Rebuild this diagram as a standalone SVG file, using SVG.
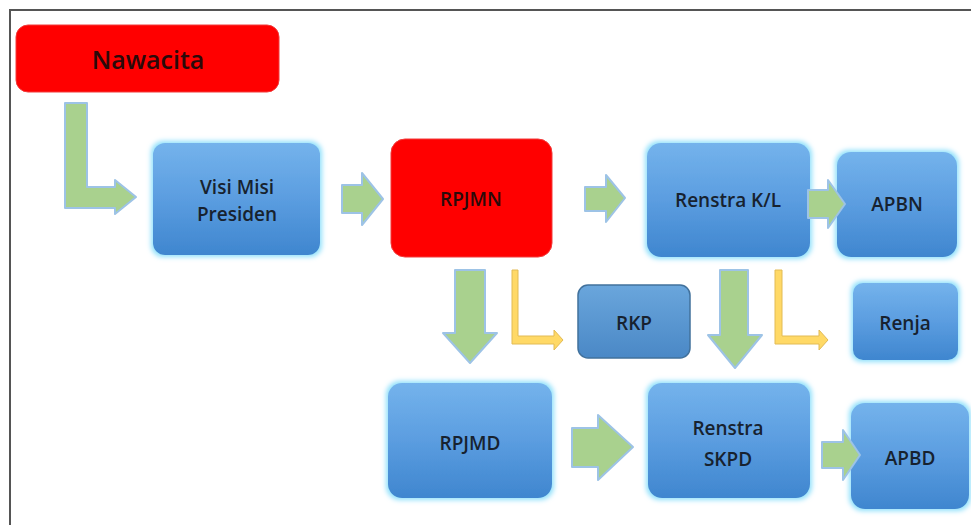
<svg xmlns="http://www.w3.org/2000/svg" width="971" height="525" viewBox="0 0 971 525">
<defs>
<linearGradient id="blue" x1="0" y1="0" x2="0" y2="1">
<stop offset="0" stop-color="#74b3ec"/>
<stop offset="0.5" stop-color="#5b9de0"/>
<stop offset="1" stop-color="#3f86cf"/>
</linearGradient>
<linearGradient id="blue2" x1="0" y1="0" x2="0" y2="1">
<stop offset="0" stop-color="#6aa6dc"/>
<stop offset="1" stop-color="#4a88c6"/>
</linearGradient>
<filter id="glow" x="-20%" y="-20%" width="140%" height="140%">
<feMorphology in="SourceAlpha" operator="dilate" radius="1.5" result="d"/>
<feGaussianBlur in="d" stdDeviation="2.5" result="b"/>
<feFlood flood-color="#8fe0fb" result="c"/>
<feComposite in="c" in2="b" operator="in" result="g"/>
<feMerge><feMergeNode in="g"/><feMergeNode in="SourceGraphic"/></feMerge>
</filter>
</defs>
<style>
.bx{fill:url(#blue);filter:url(#glow);}
.red{fill:#ff0000;stroke:#f23a3a;stroke-width:1;}
.t{font-family:"Open Sans","Liberation Sans",sans-serif;font-weight:600;fill:#17222f;text-anchor:middle;dominant-baseline:central;font-size:19px;}
.ga{fill:#a9d18e;stroke:#9dc3e6;stroke-width:2;stroke-linejoin:round;}
.ya{fill:#ffd966;stroke:#e2bb55;stroke-width:1;}
</style>
<rect x="10" y="10" width="975" height="530" fill="#ffffff" stroke="#555555" stroke-width="2"/>
<g id="nawacita">
<rect class="red" x="16" y="25" width="263" height="67" rx="12"/>
<text class="t" x="148" y="59" style="font-size:25px;fill:#2a0a0a">Nawacita</text>
</g>
<g id="visi-misi">
<rect class="bx" x="153" y="143" width="167" height="112" rx="12"/>
<text class="t" x="237" y="187">Visi Misi</text>
<text class="t" x="237" y="214">Presiden</text>
</g>
<g id="rpjmn">
<rect class="red" x="391" y="139" width="161" height="118" rx="14"/>
<text class="t" x="471" y="199" style="fill:#2a0a0a">RPJMN</text>
</g>
<g id="renstra-kl">
<rect class="bx" x="647" y="143" width="163" height="114" rx="14"/>
<text class="t" x="728" y="200">Renstra K/L</text>
</g>
<g id="apbn">
<rect class="bx" x="837" y="152" width="120" height="105" rx="14"/>
<text class="t" x="897" y="204">APBN</text>
</g>
<g id="rkp">
<rect x="578" y="285" width="112" height="73" rx="10" fill="url(#blue2)" stroke="#41719c" stroke-width="1.5"/>
<text class="t" x="634" y="323">RKP</text>
</g>
<g id="renja">
<rect class="bx" x="853" y="283" width="105" height="77" rx="10"/>
<text class="t" x="905" y="323">Renja</text>
</g>
<g id="rpjmd">
<rect class="bx" x="388" y="383" width="164" height="115" rx="14"/>
<text class="t" x="470" y="443">RPJMD</text>
</g>
<g id="renstra-skpd">
<rect class="bx" x="648" y="383" width="162" height="115" rx="14"/>
<text class="t" x="728" y="428">Renstra</text>
<text class="t" x="728" y="459">SKPD</text>
</g>
<g id="apbd">
<rect class="bx" x="851" y="403" width="118" height="106" rx="14"/>
<text class="t" x="910" y="458">APBD</text>
</g>
<g id="connectors">
<polygon class="ga" points="65,103 87,103 87,187 115,187 115,180 136,197 115,214 115,208 65,208"/>
<polygon class="ga" points="342,185 362,185 362,173 383,199 362,225 362,213 342,213"/>
<polygon class="ga" points="585,187 606,187 606,175 625,198 606,222 606,211 585,211"/>
<polygon class="ga" points="808,190 828,190 828,180 845,204 828,228 828,218 808,218"/>
<polygon class="ga" points="455,270 485,270 485,333 497,333 470,363 443,333 455,333"/>
<polygon class="ga" points="720,270 748,270 748,335 762,335 735,368 708,335 720,335"/>
<polygon class="ga" points="572,428 598,428 598,415 633,447 598,480 598,467 572,467"/>
<polygon class="ga" points="822,442 843,442 843,430 860,455 843,480 843,468 822,468"/>
<polygon class="ya" points="512,270 518,270 518,336 554,336 554,330 563,340 554,350 554,344 512,344"/>
<polygon class="ya" points="775,270 782,270 782,336 819,336 819,330 828,340 819,350 819,344 775,344"/>
</g>
</svg>
